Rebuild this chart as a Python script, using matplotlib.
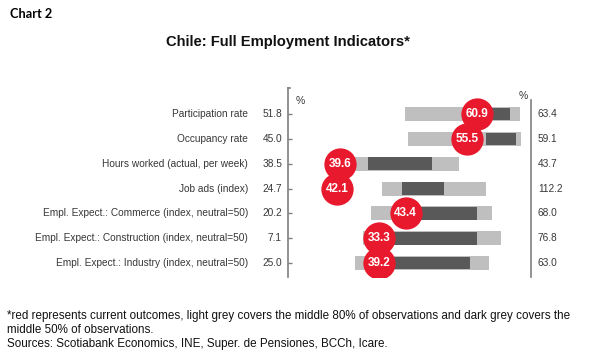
import matplotlib
matplotlib.use("Agg")
import matplotlib.pyplot as plt
import numpy as np

categories = ["Participation rate", "Occupancy rate", "Hours worked (actual, per week)",
              "Job ads (index)", "Empl. Expect.: Commerce (index, neutral=50)",
              "Empl. Expect.: Construction (index, neutral=50)",
              "Empl. Expect.: Industry (index, neutral=50)"]
mins = [51.8, 45.0, 38.5, 24.7, 20.2, 7.1, 25.0]
maxs = [63.4, 59.1, 43.7, 112.2, 68.0, 76.8, 63.0]
current = [60.9, 55.5, 39.6, 42.1, 43.4, 33.3, 39.2]
p10 = [57.4, 52.0, 39.9, 58.4, 36.5, 28.4, 35.4]
p90 = [63.0, 58.7, 42.2, 96.8, 60.8, 68.8, 56.7]
p25 = [61.4, 56.6, 40.2, 65.7, 46.5, 36.4, 41.0]
p75 = [62.5, 58.4, 41.6, 81.4, 57.7, 61.9, 53.7]

plt.rcParams['font.family'] = ['Liberation Sans', 'DejaVu Sans']
W, H = 600, 355
fig = plt.figure(figsize=(6, 3.55), dpi=100)

ax_l, ax_r, ax_t, ax_b = 287.5, 531, 88, 277
ax = fig.add_axes([ax_l / W, 1 - ax_b / H, (ax_r - ax_l) / W, (ax_b - ax_t) / H])

lo = np.array(mins); hi = np.array(maxs)
def norm(v):
    return (np.array(v) - lo) / (hi - lo) * 100

y = np.arange(len(categories))
light_c = "#BFBFBF"; dark_c = "#595959"; red_c = "#E8192C"
ax.barh(y, norm(p90) - norm(p10), left=norm(p10), height=0.57, color=light_c, zorder=2)
ax.barh(y, norm(p75) - norm(p25), left=norm(p25), height=0.51, color=dark_c, zorder=3)
cx = norm(current)
for i in range(len(categories)):
    ax.scatter([cx[i]], [y[i]], s=540, color=red_c, zorder=10 + i, linewidths=0)
    ax.text(cx[i], y[i], f"{current[i]:.1f}", color="white", fontsize=8.5, fontweight="bold",
            ha="center", va="center", zorder=10 + i + 0.5)

ax.set_xlim(-1.05, 101.25)
ax.set_ylim(6.56, -1.05)
for s in ["top", "bottom", "right"]:
    ax.spines[s].set_visible(False)
ax.spines["left"].set_color("#7F7F7F")
ax.spines["left"].set_linewidth(1.2)
ax.set_xticks([])
ax.set_yticks(y)
ax.set_yticklabels([])
ax.tick_params(axis="y", direction="in", length=3, color="#7F7F7F", width=1)
# top cap of left axis
ax.plot([0, 0.012], [1, 1], transform=ax.transAxes, color="#7F7F7F", lw=1.2, clip_on=False)
# right axis line (starts a bit lower)
ax.plot([1, 1], [0, 1 - (100 - ax_t) / (ax_b - ax_t)], transform=ax.transAxes,
        color="#7F7F7F", lw=1.2, clip_on=False)

txt_c = "#383838"
fs = 7.3
for i, cat in enumerate(categories):
    yp = y[i]
    ax.annotate(cat, xy=(0, yp), xycoords=("axes fraction", "data"), xytext=(-39.5, 0),
                textcoords="offset pixels", ha="right", va="center", fontsize=fs, color=txt_c)
    ax.annotate(f"{mins[i]:.1f}", xy=(0, yp), xycoords=("axes fraction", "data"),
                xytext=(-5.5, 0), textcoords="offset pixels", ha="right", va="center",
                fontsize=fs, color=txt_c)
    ax.annotate(f"{maxs[i]:.1f}", xy=(1, yp), xycoords=("axes fraction", "data"),
                xytext=(7, 0), textcoords="offset pixels", ha="left", va="center",
                fontsize=fs, color=txt_c)

fig.text(300 / W, 1 - 101 / H, "%", fontsize=7.5, color=txt_c, ha="center", va="center")
fig.text(523 / W, 1 - 96 / H, "%", fontsize=7.5, color=txt_c, ha="center", va="center")

fig.text(10 / W, 1 - 14 / H, "Chart 2", fontsize=9.2, fontweight="bold", family=["Lato", "DejaVu Sans"],
         ha="left", va="center", color="black")
fig.text(288 / W, 1 - 42 / H, "Chile: Full Employment Indicators*", fontsize=10.6,
         fontweight="bold", ha="center", va="center", color="#111111")

foot = ("*red represents current outcomes, light grey covers the middle 80% of observations and dark grey covers the\n"
        "middle 50% of observations.\n"
        "Sources: Scotiabank Economics, INE, Super. de Pensiones, BCCh, Icare.")
fig.text(7 / W, 1 - 310.5 / H, foot, fontsize=8.4, ha="left", va="top", color="#111111",
         linespacing=1.17)

fig.savefig("out.png", dpi=100)
